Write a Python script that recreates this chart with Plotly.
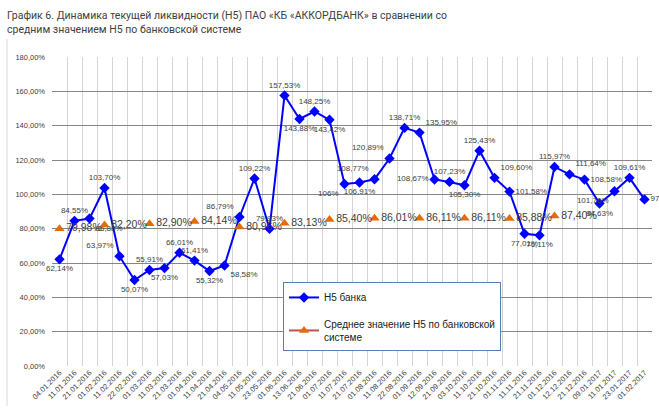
import plotly.graph_objects as go

# Dates (categories)
dates = ['04.01.2016', '11.01.2016', '21.01.2016', '01.02.2016', '11.02.2016', '22.02.2016',
         '01.03.2016', '11.03.2016', '21.03.2016', '01.04.2016', '11.04.2016', '21.04.2016',
         '04.05.2016', '11.05.2016', '23.05.2016', '01.06.2016', '13.06.2016', '21.06.2016',
         '01.07.2016', '11.07.2016', '21.07.2016', '01.08.2016', '11.08.2016', '22.08.2016',
         '01.09.2016', '12.09.2016', '21.09.2016', '03.10.2016', '11.10.2016', '21.10.2016',
         '01.11.2016', '11.11.2016', '21.11.2016', '01.12.2016', '12.12.2016', '21.12.2016',
         '09.01.2017', '11.01.2017', '23.01.2017', '01.02.2017']

# Н5 банка, %
bank_h5 = [62.14, 84.55, 85.88, 103.70, 63.97, 50.07, 55.91, 57.03, 66.01, 61.41,
           55.32, 58.58, 86.79, 109.22, 79.93, 157.53, 143.88, 148.25, 143.42, 106.00,
           106.91, 108.77, 120.89, 138.71, 135.95, 108.67, 107.23, 105.30, 125.43, 109.60,
           101.58, 77.01, 76.11, 115.97, 111.64, 108.58, 94.63, 101.76, 109.61, 97.05]

# Среднее значение Н5 по банковской системе, % (only some dates)
system_h5 = [79.98, None, None, 82.20, None, None, 82.90, None, None, 84.14,
             None, None, 80.96, None, None, 83.13, None, None, 85.40, None,
             None, 86.01, None, None, 86.11, None, None, 86.11, None, None,
             85.88, None, None, 87.40, None, None, None, None, None, None]

# y axis ticks
y_ticks = [0, 20, 40, 60, 80, 100, 120, 140, 160, 180]

# label positions for the bank series
bank_pos = ['bottom center', 'top center', 'bottom right', 'top center', 'top left',
            'bottom center', 'top center', 'bottom center', 'top center', 'top center',
            'bottom center', 'bottom right', 'top left', 'top center', 'top center',
            'top center', 'bottom center', 'top center', 'bottom center', 'bottom left',
            'bottom center', 'top left', 'top left', 'top center', 'top right',
            'middle left', 'top center', 'bottom center', 'top center', 'top right',
            'middle right', 'bottom center', 'bottom center', 'top center', 'top right',
            'middle right', 'bottom center', 'bottom left', 'top center', 'middle right']

title = ('График 6. Динамика текущей ликвидности (Н5) ПАО «КБ «АККОРДБАНК» в сравнении со<br>'
         'средним значением Н5 по банковской системе')


def fmt(v):
    if v is None:
        return ''
    if v == int(v):
        return f'{int(v)}%'
    return f'{v:.2f}%'.replace('.', ',')


fig = go.Figure()

fig.add_trace(go.Scatter(
    x=dates, y=bank_h5,
    name='Н5 банка',
    mode='lines+markers+text',
    line=dict(color='#0000FF', width=2),
    marker=dict(symbol='diamond', size=8, color='#0000FF'),
    text=[fmt(v) for v in bank_h5],
    textposition=bank_pos,
    textfont=dict(size=8, color='#404040', family='Liberation Sans'),
    cliponaxis=False,
    legendgroup='a',
))

fig.add_trace(go.Scatter(
    x=dates, y=system_h5,
    yaxis='y2',
    name='Среднее значение Н5 по банковской<br>системе',
    mode='lines+markers+text',
    connectgaps=False,
    line=dict(color='#C0504D', width=2),
    marker=dict(symbol='triangle-up', size=9, color='#E36C09'),
    text=[fmt(v) for v in system_h5],
    textposition='middle right',
    textfont=dict(size=10.5, color='#404040', family='Liberation Sans'),
    cliponaxis=False,
    legendgroup='b',
))

fig.update_layout(
    width=659, height=418,
    margin=dict(l=52, r=7, t=57, b=52),
    paper_bgcolor='white', plot_bgcolor='white',
    font=dict(family='Liberation Sans', color='#404040'),
    legend=dict(
        x=0.385, y=0.272, xanchor='left', yanchor='top',
        bordercolor='#5B7DB8', borderwidth=1, bgcolor='white',
        font=dict(size=10, color='#202020'),
        tracegroupgap=9,
        traceorder='grouped',
    ),
    xaxis=dict(
        type='category',
        tickangle=-45,
        tickson='boundaries',
        showgrid=True, gridcolor='#D4D4D4', gridwidth=1,
        ticks='', showline=False,
        tickfont=dict(size=7.5, color='#404040'),
        range=[-0.5, len(dates) - 0.5],
        automargin=False,
    ),
    yaxis=dict(
        range=[0, 180],
        tickvals=y_ticks,
        ticktext=[f'{v:.2f}%'.replace('.', ',') for v in y_ticks],
        showgrid=False,
        zeroline=False, showline=False,
        tickfont=dict(size=7.5, color='#404040'),
        ticklabelstandoff=6,
        automargin=False,
    ),
    yaxis2=dict(
        range=[0, 180], overlaying='y',
        tickvals=y_ticks[1:-1],
        showticklabels=False,
        showgrid=True, gridcolor='#868686', gridwidth=1,
        zeroline=False, showline=False,
        automargin=False,
    ),
)

# title as a left-aligned annotation above the chart
fig.add_annotation(
    text=title, showarrow=False, align='left',
    xref='paper', yref='paper',
    x=-47 / 600, y=1 + 50 / 309, xanchor='left', yanchor='top',
    font=dict(size=10.5, color='#404040', family='Roboto'),
)

# light border on the left of the chart area
fig.add_shape(type='line', xref='paper', yref='paper',
              x0=-45 / 600, x1=-45 / 600, y0=-40 / 309, y1=1 + 18 / 309,
              line=dict(color='#D9D9D9', width=1))

fig.write_html('out.html', config={'displayModeBar': False},
               post_script="document.body.style.margin='0';")
